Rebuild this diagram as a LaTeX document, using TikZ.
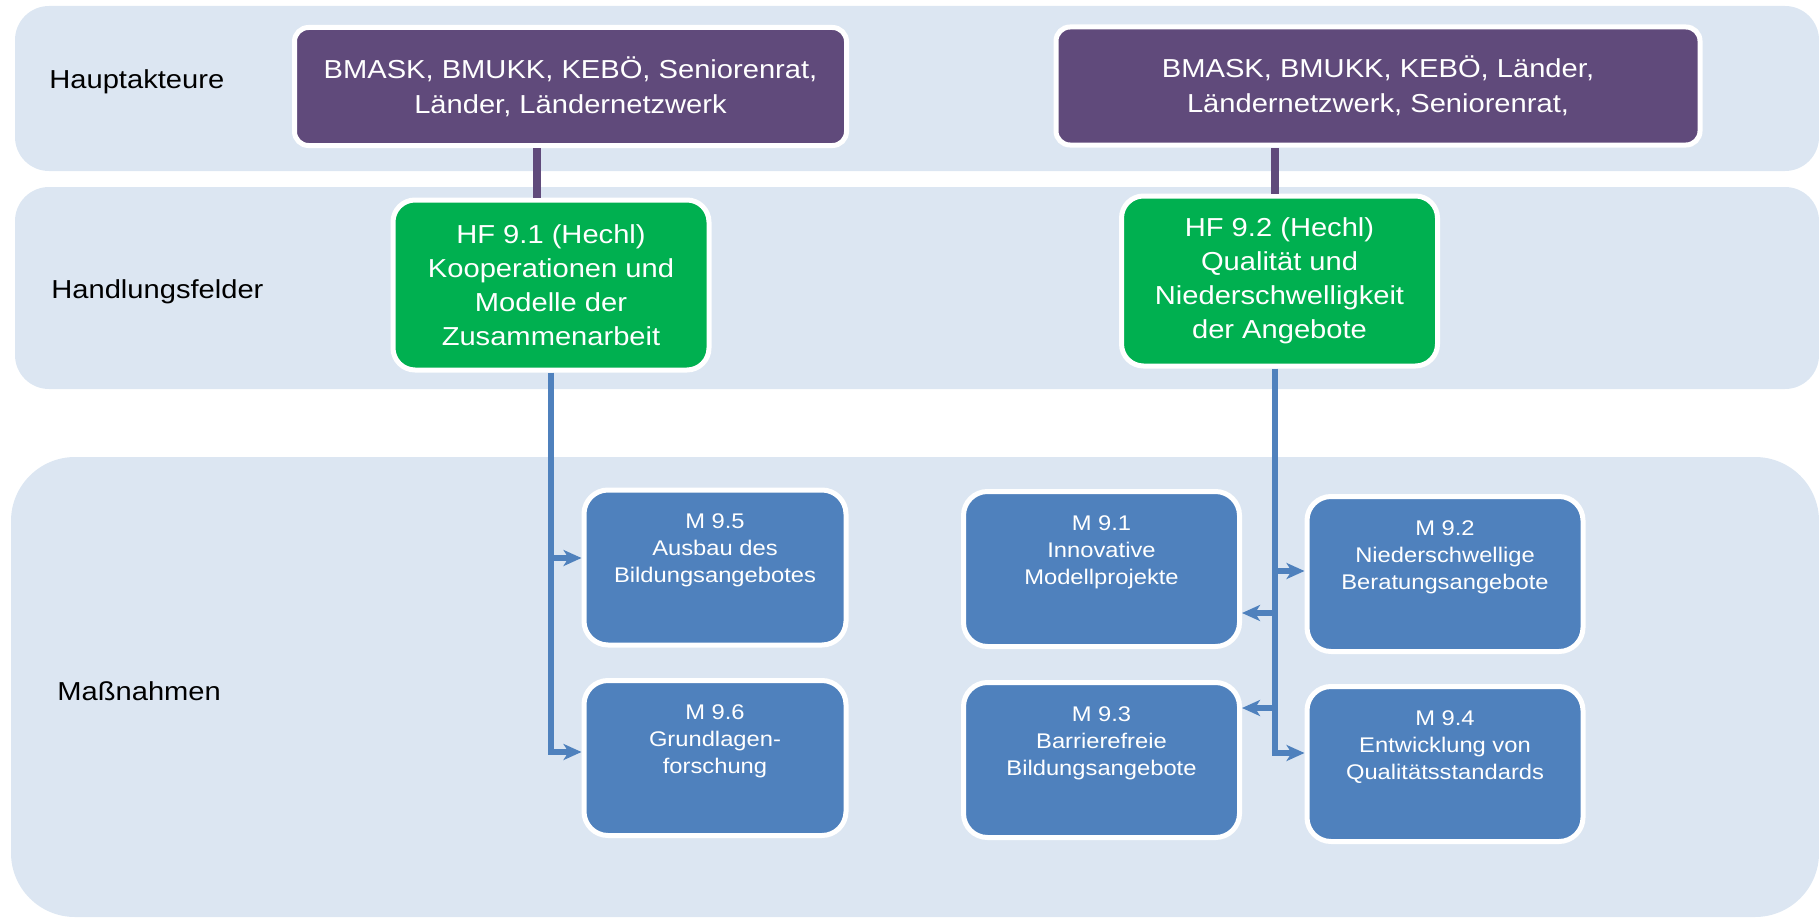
\documentclass[tikz,border=0pt]{standalone}
\usepackage{fontspec}
\setmainfont{Liberation Sans}[FakeStretch=1.12]
\usetikzlibrary{arrows.meta}

\definecolor{bandblue}{HTML}{DCE6F2}
\definecolor{actorpurple}{HTML}{604A7B}
\definecolor{fieldgreen}{HTML}{00B050}
\definecolor{measureblue}{HTML}{4F81BD}

\begin{document}
\begin{tikzpicture}[x=0.5pt, y=-0.5pt]
    % Styles
    \tikzstyle{band} = [fill=bandblue]
    \tikzstyle{rowlabel} = [anchor=base west, inner sep=0pt, text=black, font=\fontsize{13}{16}\selectfont]
    \tikzstyle{actor} = [rectangle, rounded corners=7pt, draw=white, line width=2.5pt, fill=actorpurple, text=white, align=center, font=\fontsize{13}{17.5}\selectfont]
    \tikzstyle{field} = [rectangle, rounded corners=11pt, draw=white, line width=2.5pt, fill=fieldgreen, text=white, align=center, minimum width=158pt, minimum height=85pt, font=\fontsize{13}{17}\selectfont]
    \tikzstyle{measure} = [rectangle, rounded corners=12pt, draw=white, line width=2.5pt, fill=measureblue, minimum height=77.5pt]
    \tikzstyle{measuretext} = [anchor=north, inner sep=0pt, text=white, align=center, font=\fontsize{10.6}{13.5}\selectfont]
    \tikzstyle{link} = [draw=actorpurple, line width=4pt]
    \tikzstyle{arrow} = [draw=measureblue, line width=3pt, -{Stealth[length=9pt, width=8pt, inset=2.5pt]}]

    \useasboundingbox (0, 0) rectangle (1819, 920);

    % Background bands
    \fill[band, rounded corners=17pt] (15, 6) rectangle (1819, 171);
    \fill[band, rounded corners=17pt] (15, 187) rectangle (1819, 389);
    \fill[band, rounded corners=32pt] (11, 457) rectangle (1819, 917);

    % Row labels
    \node[rowlabel] (Lhaupt) at (49, 89) {Hauptakteure};
    \node[rowlabel] (Lfeld) at (51, 298) {Handlungsfelder};
    \node[rowlabel] (Lmass) at (57, 700) {Maßnahmen};

    % Hauptakteure
    \node[actor, minimum width=276pt, minimum height=59pt] (P1) at (570.5, 86.5) {BMASK, BMUKK, KEBÖ, Seniorenrat,\\ Länder, Ländernetzwerk};
    \node[actor, minimum width=322pt, minimum height=59pt] (P2) at (1378, 86) {BMASK, BMUKK, KEBÖ, Länder,\\ Ländernetzwerk, Seniorenrat,};

    % Handlungsfelder
    \node[field] (HF1) at (551, 285) {HF 9.1 (Hechl)\\ Kooperationen und\\ Modelle der\\ Zusammenarbeit};
    \node[field] (HF2) at (1279.5, 281) {HF 9.2 (Hechl)\\ Qualität und\\ Niederschwelligkeit\\ der Angebote};

    % Massnahmen
    \node[measure, minimum width=131pt] (M95) at (715, 567.5) {};
    \node[measuretext] (M95t) at ([yshift=-13pt]M95.north) {M 9.5\\ Ausbau des\\ Bildungsangebotes};
    \node[measure, minimum width=131pt] (M96) at (715, 758) {};
    \node[measuretext] (M96t) at ([yshift=-13pt]M96.north) {M 9.6\\ Grundlagen-\\ forschung};
    \node[measure, minimum width=138pt] (M91) at (1101.5, 569) {};
    \node[measuretext] (M91t) at ([yshift=-13pt]M91.north) {M 9.1\\ Innovative\\ Modellprojekte};
    \node[measure, minimum width=138pt] (M93) at (1101.5, 760) {};
    \node[measuretext] (M93t) at ([yshift=-13pt]M93.north) {M 9.3\\ Barrierefreie\\ Bildungsangebote};
    \node[measure, minimum width=138pt] (M92) at (1445, 574) {};
    \node[measuretext] (M92t) at ([yshift=-13pt]M92.north) {M 9.2\\ Niederschwellige\\ Beratungsangebote};
    \node[measure, minimum width=138pt] (M94) at (1445, 764) {};
    \node[measuretext] (M94t) at ([yshift=-13pt]M94.north) {M 9.4\\ Entwicklung von\\ Qualitätsstandards};

    % Links actors - fields
    \draw[link] ([xshift=-7pt]HF1.north) -- ([xshift=-7pt]HF1.north |- P1.south);
    \draw[link] ([xshift=-2.5pt]HF2.north) -- ([xshift=-2.5pt]HF2.north |- P2.south);

    % Arrows fields - measures
    \coordinate (S1) at (HF1.south);
    \coordinate (S2) at ([xshift=-2.5pt]HF2.south);
    \draw[arrow] (S1) |- ([yshift=3pt]M96.west);
    \draw[arrow] ([yshift=4.75pt]M95.west -| S1) -- ([yshift=4.75pt]M95.west);
    \draw[arrow] (S2) |- ([yshift=5.5pt]M94.west);
    \draw[arrow] ([yshift=1.5pt]M92.west -| S2) -- ([yshift=1.5pt]M92.west);
    \draw[arrow] ([yshift=-22pt]M91.east -| S2) -- ([yshift=-22pt]M91.east);
    \draw[arrow] ([yshift=26pt]M93.east -| S2) -- ([yshift=26pt]M93.east);
\end{tikzpicture}
\end{document}
